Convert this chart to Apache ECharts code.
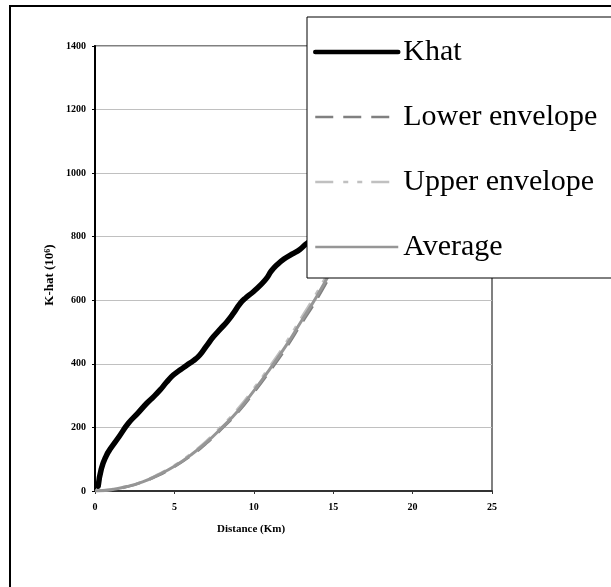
<!DOCTYPE html>
<html>
<head>
<meta charset="utf-8">
<script src="https://cdn.jsdelivr.net/npm/echarts@6/dist/echarts.min.js"></script>
<style>html,body{margin:0;padding:0;background:#fff}#c{width:611px;height:587px}</style>
</head>
<body>
<div id="c"></div>
<script>
// Data
const khatDist = [0.2, 0.4, 0.7, 1.0, 1.5, 2.1, 2.7, 3.26, 3.7, 4.1, 4.5, 4.93, 5.4, 5.78, 6.2, 6.6, 7.0, 7.45, 7.9, 8.3, 8.7, 9.14, 9.5, 9.97, 10.4, 10.8, 11.1, 11.45, 11.9, 12.4, 12.9, 13.34, 14.0, 14.8, 15.5];
const khatValues = [15, 70, 110, 135, 170, 213, 245, 276, 297, 318, 342, 365, 382, 396, 410, 428, 455, 485, 510, 532, 558, 590, 608, 627, 647, 669, 692, 711, 730, 745, 760, 779, 800, 825, 850];
const envDist = [0, 1, 2, 3, 4, 5, 6, 7, 8, 9, 10, 11, 12, 13, 14, 15, 16];
const lowerValues = [0, 3, 13, 28, 49, 76, 109, 149, 196, 247, 309, 376, 447, 526, 605, 694, 788];
const upperValues = [0, 5, 15, 30, 53, 81, 116, 157, 206, 259, 323, 392, 465, 546, 627, 718, 814];
const averageValues = [0, 4, 14, 29, 51, 78, 112, 152, 200, 252, 315, 383, 455, 535, 615, 705, 800];
const seriesNames = ['Khat', 'Lower envelope', 'Upper envelope', 'Average'];
const xTitle = 'Distance (Km)';

const zip = (xs, ys) => xs.map((x, i) => [x, ys[i]]);
const serif = 'Liberation Serif';
const lowerDash = [18, 10];
const upperDash = [18, 10, 5, 9, 5, 9];

const chart = echarts.init(document.getElementById('c'), null, {renderer: 'canvas'});
chart.setOption({
  animation: false,
  backgroundColor: '#fff',
  grid: {left: 95, right: 119, top: 46, bottom: 96, show: true, borderColor: '#808080', borderWidth: 2, containLabel: false},
  xAxis: {
    type: 'value', min: 0, max: 25, interval: 5,
    axisLine: {show: true, onZero: false, lineStyle: {color: '#333', width: 2}},
    axisTick: {show: true, inside: false, length: 3, lineStyle: {color: '#333', width: 1}},
    axisLabel: {color: '#000', fontFamily: serif, fontWeight: 'bold', fontSize: 10, margin: 11, formatter: v => String(v)},
    splitLine: {show: false}
  },
  yAxis: {
    type: 'value', min: 0, max: 1400, interval: 200,
    axisLine: {show: true, onZero: false, lineStyle: {color: '#000', width: 2}},
    axisTick: {show: true, inside: false, length: 3, lineStyle: {color: '#000', width: 1}},
    axisLabel: {color: '#000', fontFamily: serif, fontWeight: 'bold', fontSize: 10, margin: 9, formatter: v => String(v)},
    splitLine: {show: true, lineStyle: {color: '#c0c0c0', width: 1}}
  },
  legend: {
    left: 307, top: 17,
    orient: 'vertical',
    data: [
      {name: seriesNames[0], lineStyle: {width: 4.5}},
      {name: seriesNames[1], lineStyle: {width: 2.5}},
      {name: seriesNames[2], lineStyle: {width: 2.5}},
      {name: seriesNames[3], lineStyle: {width: 2.5}}
    ],
    backgroundColor: '#fff',
    borderColor: '#000', borderWidth: 1, borderRadius: 0,
    padding: [20, 40, 16, 6],
    itemWidth: 83, itemHeight: 30, itemGap: 35,
    itemStyle: {opacity: 0},
    textStyle: {fontFamily: serif, fontSize: 30, color: '#000', lineHeight: 30},
    selectedMode: false
  },
  series: [
    {name: seriesNames[1], type: 'line', data: zip(envDist, lowerValues), showSymbol: false, symbol: 'none', smooth: true,
     lineStyle: {color: '#808080', width: 2.5, type: lowerDash}, itemStyle: {color: '#808080'}, z: 2},
    {name: seriesNames[2], type: 'line', data: zip(envDist, upperValues), showSymbol: false, symbol: 'none', smooth: true,
     lineStyle: {color: '#c0c0c0', width: 2.5, type: upperDash}, itemStyle: {color: '#c0c0c0'}, z: 2},
    {name: seriesNames[3], type: 'line', data: zip(envDist, averageValues), showSymbol: false, symbol: 'none', smooth: true,
     lineStyle: {color: '#969696', width: 3}, itemStyle: {color: '#969696'}, z: 3},
    {name: seriesNames[0], type: 'line', data: zip(khatDist, khatValues), showSymbol: false, symbol: 'none', smooth: true,
     lineStyle: {color: '#000', width: 5.5, cap: 'round'}, itemStyle: {color: '#000'}, z: 3}
  ],
  graphic: [
    {type: 'rect', shape: {x: 10, y: 6, width: 700, height: 700}, style: {fill: null, stroke: '#000', lineWidth: 2}, z: 0, silent: true},
    {type: 'text', x: 251, y: 529, style: {text: xTitle, fontFamily: serif, fontWeight: 'bold', fontSize: 11, fill: '#000', align: 'center', verticalAlign: 'middle'}},
    {type: 'text', x: 50, y: 275, rotation: Math.PI / 2,
     style: {text: 'K-hat (10{sup|6})', fontFamily: serif, fontWeight: 'bold', fontSize: 13, fill: '#000', align: 'center', verticalAlign: 'middle',
       rich: {sup: {fontFamily: serif, fontWeight: 'bold', fontSize: 8, verticalAlign: 'top', padding: [0, 0, 5, 0]}}}}
  ]
});
</script>
</body>
</html>
